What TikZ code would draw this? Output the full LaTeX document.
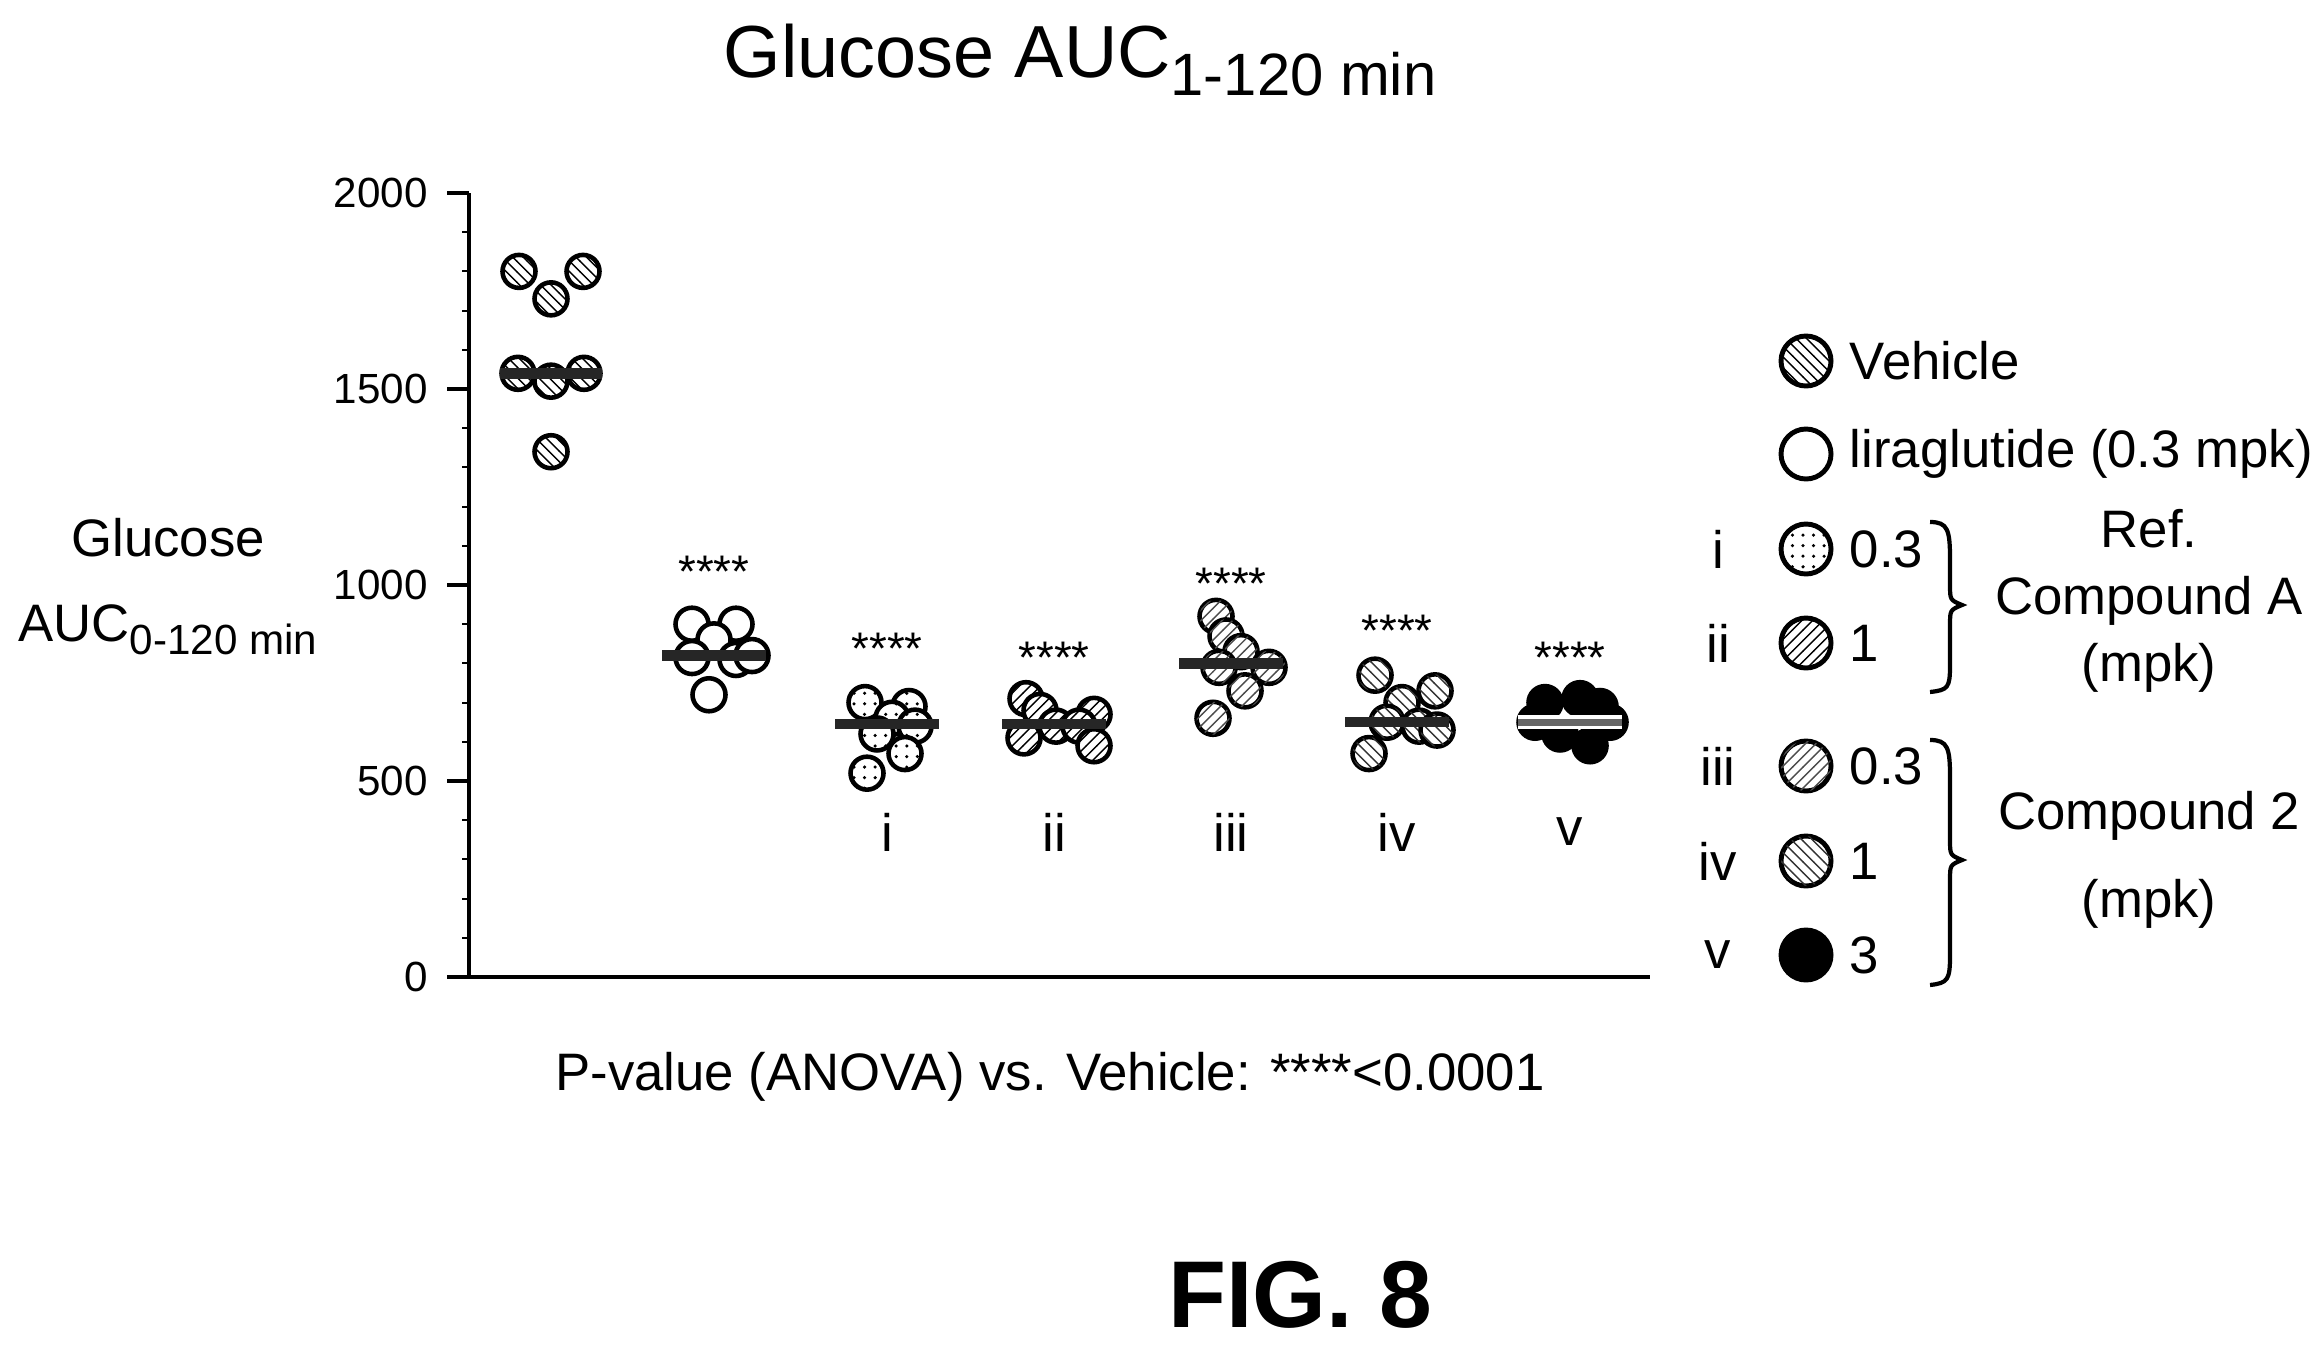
\documentclass[tikz,border=0pt]{standalone}
\usepackage{fontspec}
\setmainfont{Liberation Sans}
\usetikzlibrary{patterns}

\tikzset{
  pt/.style={circle,draw,line width=1.3pt,minimum size=3.3mm,inner sep=0pt,fill=white},
  lg/.style={circle,draw,line width=1.4pt,minimum size=5mm,inner sep=0pt,fill=white},
  veh/.style={postaction={pattern=north west lines}},
  dotf/.style={postaction={pattern=dots}},
  hatA/.style={postaction={pattern=north east lines}},
  hatB/.style={postaction={pattern=north east lines,pattern color=black!70}},
  hatC/.style={postaction={pattern=north west lines,pattern color=black!80}},
  solid/.style={fill=black},
  med/.style={line width=3pt,black!85},
  lab/.style={font=\fontsize{15}{17}\selectfont},
  tick/.style={font=\fontsize{12}{14}\selectfont,anchor=east},
  star/.style={font=\fontsize{13}{14}\selectfont}
}
\newcommand{\ypx}[1]{977-#1*0.392}
\newcommand{\lowsub}[2]{\raisebox{-0.45ex}{\fontsize{#1}{#1}\selectfont #2}}

\begin{document}
\begin{tikzpicture}[x=0.1mm,y=-0.1mm]
\useasboundingbox (0,0) rectangle (2317,1347);
% title and axis labels
\node[font=\fontsize{21}{24}\selectfont] (title) at (1080,60) {Glucose AUC\lowsub{17}{1-120 min}};
\node[lab] (ylab1) at (168,538) {Glucose};
\node[lab] (ylab2) at (168,630) {AUC\lowsub{12}{0-120 min}};
% axes
\coordinate (y0) at (469,977);
\coordinate (ytop) at (469,193);
\coordinate (xend) at (1650,977);
\draw[line width=1.2pt] (ytop) -- (y0) -- (xend);
\foreach \v in {0,500,1000,1500,2000} {
  \draw[line width=1.2pt] (447,{\ypx{\v}}) -- (469,{\ypx{\v}});
  \node[tick] (t\v) at (440,{\ypx{\v}}) {\v};
}
\foreach \v in {100,200,...,1900} \draw[line width=0.6pt] (462,{\ypx{\v}}) -- (469,{\ypx{\v}});
% vehicle
\foreach \dx/\v [count=\k] in {-32/1800,32/1800,0/1730,-33/1540,33/1540,0/1520,0/1340}
  \node[pt,veh] (veh\k) at (551+\dx,{\ypx{\v}}) {};
\draw[med] (500,{\ypx{1540}}) -- (602,{\ypx{1540}});
% liraglutide
\foreach \dx/\v [count=\k] in {-22/900,22/900,0/860,-22/815,22/810,38/820,-5/720}
  \node[pt] (lir\k) at (714+\dx,{\ypx{\v}}) {};
\draw[med] (662,{\ypx{820}}) -- (766,{\ypx{820}});
% i
\foreach \dx/\v [count=\k] in {-22/700,22/690,5/660,-10/620,28/640,18/570,-20/520}
  \node[pt,dotf] (ci\k) at (887+\dx,{\ypx{\v}}) {};
\draw[med] (835,{\ypx{645}}) -- (939,{\ypx{645}});
% ii
\foreach \dx/\v [count=\k] in {-28/710,-14/680,2/640,40/670,25/640,-30/610,40/590}
  \node[pt,hatA] (cii\k) at (1054+\dx,{\ypx{\v}}) {};
\draw[med] (1002,{\ypx{645}}) -- (1106,{\ypx{645}});
% iii
\foreach \dx/\v [count=\k] in {-15/920,-5/870,10/830,38/790,-12/790,14/730,-18/660}
  \node[pt,hatB] (ciii\k) at (1231+\dx,{\ypx{\v}}) {};
\draw[med] (1179,{\ypx{800}}) -- (1283,{\ypx{800}});
% iv
\foreach \dx/\v [count=\k] in {-22/770,38/730,5/700,-10/650,22/640,40/630,-28/570}
  \node[pt,hatC] (civ\k) at (1397+\dx,{\ypx{\v}}) {};
\draw[med] (1345,{\ypx{650}}) -- (1449,{\ypx{650}});
% v
\foreach \dx/\v [count=\k] in {-25/700,10/710,30/690,-35/650,40/650,-10/620,20/590}
  \node[pt,solid] (cv\k) at (1570+\dx,{\ypx{\v}}) {};
\draw[line width=4pt,white] (1518,{\ypx{650}}) -- (1622,{\ypx{650}});
\draw[line width=2pt,black!60] (1518,{\ypx{650}}) -- (1622,{\ypx{650}});
% stars and group labels
\foreach \x/\y/\n in {714/572/lir,887/649/i,1054/658/ii,1231/584/iii,1397/631/iv,1570/658/v}
  \node[star] (s\n) at (\x,\y) {****};
\foreach \x/\t in {887/i,1054/ii,1231/iii,1397/iv,1570/v}
  \node[lab] (g\t) at (\x,832) {\t};
% legend
\node[lg,veh] (lveh) at (1806,361) {};
\node[lg] (llir) at (1806,454) {};
\node[lg,dotf] (li) at (1806,549) {};
\node[lg,hatA] (lii) at (1806,643) {};
\node[lg,hatB] (liii) at (1806,766) {};
\node[lg,hatC] (liv) at (1806,861) {};
\node[lg,solid] (lv) at (1806,955) {};
\node[lab,anchor=west] at ([xshift=0.4mm]lveh.east) {Vehicle};
\node[lab,anchor=west] at ([xshift=0.4mm]llir.east) {liraglutide (0.3 mpk)};
\foreach \n/\t/\r in {li/0.3/i,lii/1/ii,liii/0.3/iii,liv/1/iv,lv/3/v} {
  \node[lab,anchor=west] (n\n) at ([xshift=0.4mm]\n.east) {\t};
  \node[lab] (r\n) at ([xshift=-8.8mm]\n.center) {\r};
}
\draw[line width=1.2pt] (1930,522) .. controls (1948,522) and (1950,530) .. (1950,560) -- (1950,585) .. controls (1950,600) .. (1962,605) .. controls (1950,610) .. (1950,625) -- (1950,665) .. controls (1950,688) and (1948,690) .. (1930,692);
\draw[line width=1.2pt] (1930,740) .. controls (1948,740) and (1950,748) .. (1950,778) -- (1950,840) .. controls (1950,855) .. (1962,860) .. controls (1950,865) .. (1950,880) -- (1950,955) .. controls (1950,980) and (1948,983) .. (1930,985);
\node[lab,align=center] (cA) at (2149,601) {Ref.\\[2pt]Compound A\\[2pt](mpk)};
\node[lab,align=center] (c2) at (2149,860) {Compound 2\\[8pt](mpk)};
% footnotes
\node[lab] (pval) at (1050,1077) {P-value (ANOVA) vs. Vehicle: ****<0.0001};
\node[font=\fontsize{27}{30}\selectfont\bfseries] (fig) at (1300,1295) {FIG. 8};
\end{tikzpicture}
\end{document}
